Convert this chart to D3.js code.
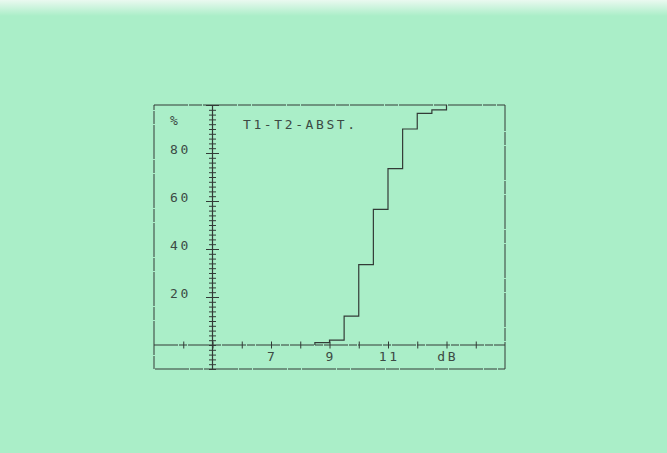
<!DOCTYPE html>
<html>
<head>
<meta charset="utf-8">
<script src="https://cdn.jsdelivr.net/npm/d3@7"></script>
<style>
  body { margin: 0; background: #aaeec8; }
  svg text { font-family: "DejaVu Sans Mono", monospace; font-size: 13px; fill: #3c4a44; letter-spacing: 2.6px; }
</style>
</head>
<body>
<svg id="chart" width="667" height="453"></svg>
<script>
// cumulative distribution of T1-T2 distance, 0.5 dB classes
let stepDb = [8.5, 9, 9.5, 10, 10.5, 11, 11.5, 12, 12.5, 13]
let cumPct = [1, 2, 12, 33.5, 56.5, 73.5, 90, 96.5, 98, 100]

let xTicks = [4, 5, 6, 7, 8, 9, 10, 11, 12, 13, 14]
let xLabels = [
    {v: 7, t: "7"},
    {v: 9, t: "9"},
    {v: 11, t: "11"},
    {v: 13, t: "dB"}
]
let yLabels = [20, 40, 60, 80]
let title = "T1-T2-ABST."
let unit = "%"

let svg = d3.select("#chart"),
    frame = {left: 154, right: 505, top: 105, bottom: 369},
    ink = "#333b37"

// background + slight lighter scan edge at top
let defs = svg.append("defs")
let grad = defs.append("linearGradient").attr("id", "topfade")
    .attr("x1", 0).attr("y1", 0).attr("x2", 0).attr("y2", 1)
grad.append("stop").attr("offset", "0%").attr("stop-color", "#eaf9f0")
grad.append("stop").attr("offset", "100%").attr("stop-color", "#aaeec8")
svg.append("rect").attr("width", 667).attr("height", 453).attr("fill", "#aaeec8")
svg.append("rect").attr("width", 667).attr("height", 16).attr("fill", "url(#topfade)")

let x = d3.scaleLinear().domain([3, 15]).range([frame.left, frame.right])
let y = d3.scaleLinear().domain([-10, 100]).range([frame.bottom, frame.top])

// frame (plotter pen, tiny gaps)
svg.append("rect")
    .attr("x", frame.left).attr("y", frame.top)
    .attr("width", frame.right - frame.left).attr("height", frame.bottom - frame.top)
    .attr("fill", "none").attr("stroke", ink).attr("stroke-width", 1)
    .attr("stroke-dasharray", "34,1,13,1")

// x axis
let xAxis = svg.append("g").attr("transform", "translate(0," + y(0) + ")")
    .call(d3.axisBottom(x).tickValues(xTicks).tickSize(0).tickFormat(""))
xAxis.select(".domain").remove()
xAxis.append("line")
    .attr("x1", frame.left).attr("x2", frame.right)
    .attr("stroke", ink).attr("stroke-dasharray", "24,1,8,1")
xAxis.selectAll(".tick line").attr("y1", -3.5).attr("y2", 3.5).attr("stroke", ink)

svg.selectAll(".xlab")
    .data(xLabels)
    .enter().append("text")
    .attr("class", "xlab")
    .attr("x", d => x(d.v) + 1.3)
    .attr("y", y(0) + 16)
    .attr("text-anchor", "middle")
    .text(d => d.t)

// y axis with minor ticks every 2 %
let yTicks = d3.range(-10, 101, 2)
let yAxis = svg.append("g").attr("transform", "translate(" + x(5) + ",0)")
    .call(d3.axisLeft(y).tickValues(yTicks).tickSize(0).tickFormat(""))
yAxis.select(".domain").remove()
yAxis.append("line")
    .attr("y1", frame.top).attr("y2", frame.bottom)
    .attr("stroke", ink).attr("stroke-width", 1.2)
yAxis.selectAll(".tick line")
    .attr("x1", d => d % 20 == 0 && d > 0 ? -6.5 : -3.5)
    .attr("x2", d => d % 20 == 0 && d > 0 ? 6.5 : 3.5)
    .attr("stroke", ink)

svg.selectAll(".ylab")
    .data(yLabels)
    .enter().append("text")
    .attr("class", "ylab")
    .attr("x", 170)
    .attr("y", d => y(d) + 1)
    .text(d => d)

svg.append("text").attr("x", 170).attr("y", 125).text(unit)
svg.append("text").attr("x", 243).attr("y", 129).text(title)

// step curve
let pts = [[stepDb[0], 0]].concat(stepDb.map((d, i) => [d, cumPct[i]]))
let line = d3.line()
    .x(d => x(d[0]))
    .y(d => y(d[1]))
    .curve(d3.curveStepAfter)

svg.append("path")
    .datum(pts)
    .attr("d", line)
    .attr("fill", "none")
    .attr("stroke", ink)
    .attr("stroke-width", 1.2)
</script>
</body>
</html>
